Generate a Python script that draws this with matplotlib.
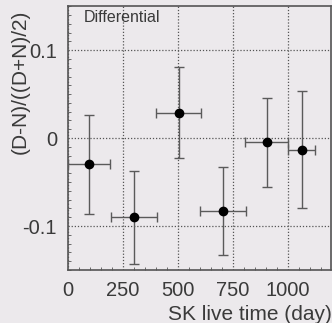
import numpy as np
import matplotlib
matplotlib.use("Agg")
import matplotlib.pyplot as plt
from matplotlib.ticker import MultipleLocator

# bin centres (days), half-widths, asymmetry and its error
live_time = [95, 300, 502, 704, 903, 1062]
time_halfwidth = [95, 104, 103, 104, 98, 61]
asymmetry = [-0.030, -0.090, 0.029, -0.083, -0.005, -0.013]
asym_err = [0.056, 0.053, 0.052, 0.050, 0.051, 0.067]

xticks = [0, 250, 500, 750, 1000]
yticks = [-0.1, 0, 0.1]
ytick_labels = ["-0.1", "0", "0.1"]

plt.rcParams["font.family"] = ["Liberation Sans", "DejaVu Sans"]
bg = "#ece9ec"
txt = "#3a3a3a"

fig = plt.figure(figsize=(3.32, 3.23), dpi=100, facecolor=bg)
ax = fig.add_axes([0.205, 0.164, 0.792, 0.817], facecolor=bg)

ax.errorbar(live_time, asymmetry, xerr=time_halfwidth, yerr=asym_err,
            fmt="o", color="black", ms=6, ecolor="#5a5a5a", elinewidth=1.0,
            capsize=3.5, capthick=1.0, zorder=3)

ax.set_xlim(0, 1195)
ax.set_ylim(-0.15, 0.15)
ax.set_xticks(xticks)
ax.set_yticks(yticks)
ax.set_yticklabels(ytick_labels)
ax.xaxis.set_minor_locator(MultipleLocator(50))
ax.yaxis.set_minor_locator(MultipleLocator(0.01))
ax.tick_params(which="both", direction="in", colors="#555555", labelcolor=txt,
               labelsize=14.5)
ax.tick_params(which="major", length=0, pad=8)
ax.tick_params(which="minor", length=2)

ax.grid(True, which="major", linestyle=(0, (1, 1.5)), color="#555555", linewidth=0.9)

for s in ax.spines.values():
    s.set_color("#555555")
    s.set_linewidth(1.2)

ax.text(0.06, 0.985, "Differential", transform=ax.transAxes, ha="left", va="top",
        fontsize=11.5, color=txt)
ax.set_xlabel("SK live time (day)", loc="right", fontsize=15, color=txt)
ax.xaxis.set_label_coords(1.005, -0.133)
ax.set_ylabel("(D-N)/((D+N)/2)", loc="top", fontsize=15, color=txt)
ax.yaxis.set_label_coords(-0.145, 0.985)

fig.savefig("out.png", dpi=100, facecolor=bg)
